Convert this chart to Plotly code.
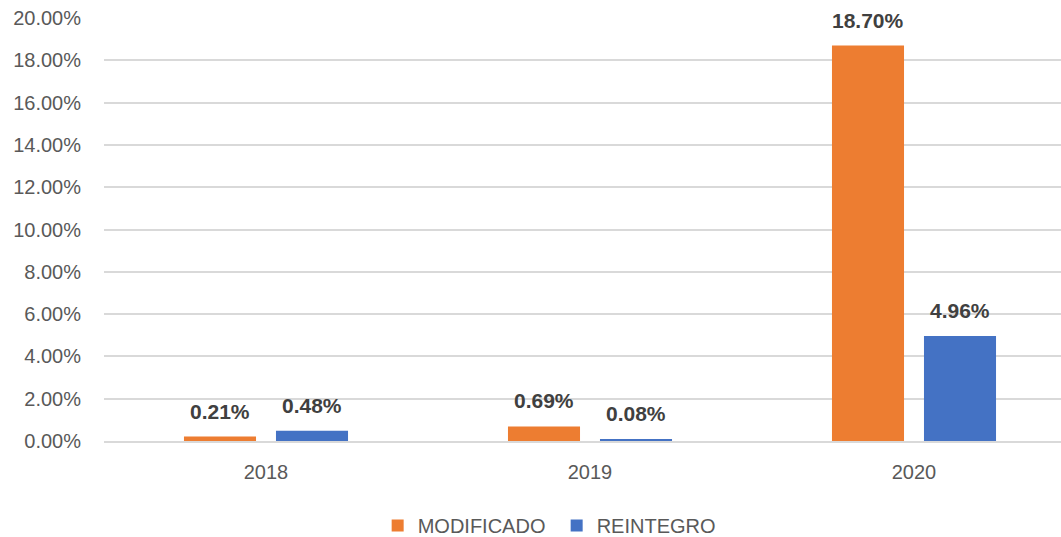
import plotly.graph_objects as go

years = ["2018", "2019", "2020"]
modificado = [0.0021, 0.0069, 0.1870]
reintegro = [0.0048, 0.0008, 0.0496]
series_names = ["MODIFICADO", "REINTEGRO"]
colors = ["#ED7D31", "#4472C4"]
y_ticks = [0.0, 0.02, 0.04, 0.06, 0.08, 0.10, 0.12, 0.14, 0.16, 0.18, 0.20]

xs = list(range(len(years)))
fig = go.Figure()
for name, vals, col in zip(series_names, [modificado, reintegro], colors):
    fig.add_trace(go.Bar(x=xs, y=vals, name=name, marker=dict(color=col, line=dict(width=0))))

# data labels
offset = 46 / 324
for i, (name, vals) in enumerate(zip(series_names, [modificado, reintegro])):
    sign = -1 if i == 0 else 1
    for x, v in zip(xs, vals):
        fig.add_annotation(x=x + sign * offset, y=v, text=f"{v*100:.2f}%",
                           showarrow=False, yanchor="bottom", yshift=12,
                           font=dict(family="Liberation Sans", size=21, color="#404040", weight="bold"))

fig.update_layout(
    width=1061, height=537,
    margin=dict(l=104, r=0, t=18, b=96, autoexpand=False),
    paper_bgcolor="white", plot_bgcolor="white",
    barmode="group", bargap=0.432, bargroupgap=0.217,
    font=dict(family="Liberation Sans", size=19, color="#595959"),
    showlegend=True,
    legend=dict(orientation="h", x=0.473, xanchor="center", y=-0.2, yanchor="middle",
                font=dict(size=20, color="#595959"), itemwidth=30,
                entrywidth=134, entrywidthmode="pixels"),
    xaxis=dict(range=[-0.5, -0.5 + 957 / 324], tickmode="array", tickvals=xs, ticktext=years,
               showgrid=False, showline=True, linecolor="#d9d9d9", linewidth=2, zeroline=False,
               automargin=False,
               ticks="", ticklabelstandoff=12, tickfont=dict(size=20, color="#595959")),
    yaxis=dict(range=[0, 0.2], tickmode="array", tickvals=y_ticks,
               ticktext=[f"{t*100:.2f}%" for t in y_ticks], automargin=False,
               showgrid=True, gridcolor="#d9d9d9", gridwidth=2, zeroline=False, showline=False,
               ticks="", ticklabelstandoff=22, tickfont=dict(size=20, color="#595959")),
)

fig.write_html("out.html", config={"displayModeBar": False},
               post_script="document.body.style.margin='0';document.body.style.overflow='hidden';")
